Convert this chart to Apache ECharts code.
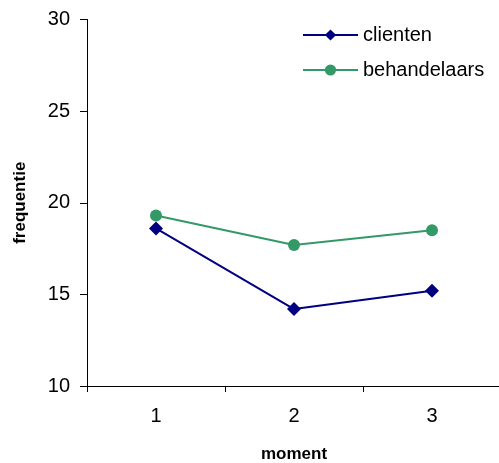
<!DOCTYPE html>
<html>
<head>
<meta charset="utf-8">
<script src="https://cdn.jsdelivr.net/npm/echarts@6/dist/echarts.min.js"></script>
<style>html,body{margin:0;padding:0;background:#fff}#c{width:499px;height:463px}</style>
</head>
<body>
<div id="c"></div>
<script>
var categories = ['1', '2', '3'];
var clienten = [18.6, 14.2, 15.2];
var behandelaars = [19.3, 17.7, 18.5];
var yTicks = { min: 10, max: 30, interval: 5 };

var chart = echarts.init(document.getElementById('c'), null, { renderer: 'canvas' });
var font = 'Liberation Sans, Arial, sans-serif';
chart.setOption({
  animation: false,
  backgroundColor: '#ffffff',
  textStyle: { fontFamily: font },
  grid: { left: 87, top: 19.5, width: 414, height: 366.5, containLabel: false, outerBoundsMode: 'none' },
  legend: {
    orient: 'vertical',
    left: 302,
    top: 25,
    padding: 0,
    itemWidth: 55,
    itemHeight: 14,
    itemGap: 15,
    textStyle: { fontSize: 20, color: '#000', fontFamily: font, lineHeight: 20 },
    data: ['clienten', 'behandelaars']
  },
  xAxis: {
    type: 'category',
    data: categories,
    boundaryGap: true,
    name: 'moment',
    nameLocation: 'middle',
    nameGap: 60,
    nameTextStyle: { fontSize: 17, fontWeight: 'bold', color: '#000', fontFamily: font },
    axisLine: { lineStyle: { color: '#000', width: 1 } },
    axisTick: { show: true, length: 6, lineStyle: { color: '#000' } },
    axisLabel: { fontSize: 20, color: '#000', margin: 20, fontFamily: font },
    splitLine: { show: false }
  },
  yAxis: {
    type: 'value',
    min: yTicks.min,
    max: yTicks.max,
    interval: yTicks.interval,
    name: 'frequentie',
    nameLocation: 'middle',
    nameGap: 58,
    nameTextStyle: { fontSize: 17, fontWeight: 'bold', color: '#000', fontFamily: font },
    axisLine: { show: true, lineStyle: { color: '#000', width: 1 } },
    axisTick: { show: true, length: 7, lineStyle: { color: '#000' } },
    axisLabel: { fontSize: 20, color: '#000', margin: 17, fontFamily: font },
    splitLine: { show: false }
  },
  series: [
    {
      name: 'clienten',
      type: 'line',
      data: clienten,
      symbol: 'diamond',
      symbolSize: 14,
      lineStyle: { color: '#000080', width: 2 },
      itemStyle: { color: '#000080' }
    },
    {
      name: 'behandelaars',
      type: 'line',
      data: behandelaars,
      symbol: 'circle',
      symbolSize: 12,
      lineStyle: { color: '#339966', width: 2 },
      itemStyle: { color: '#339966' }
    }
  ]
});
</script>
</body>
</html>
